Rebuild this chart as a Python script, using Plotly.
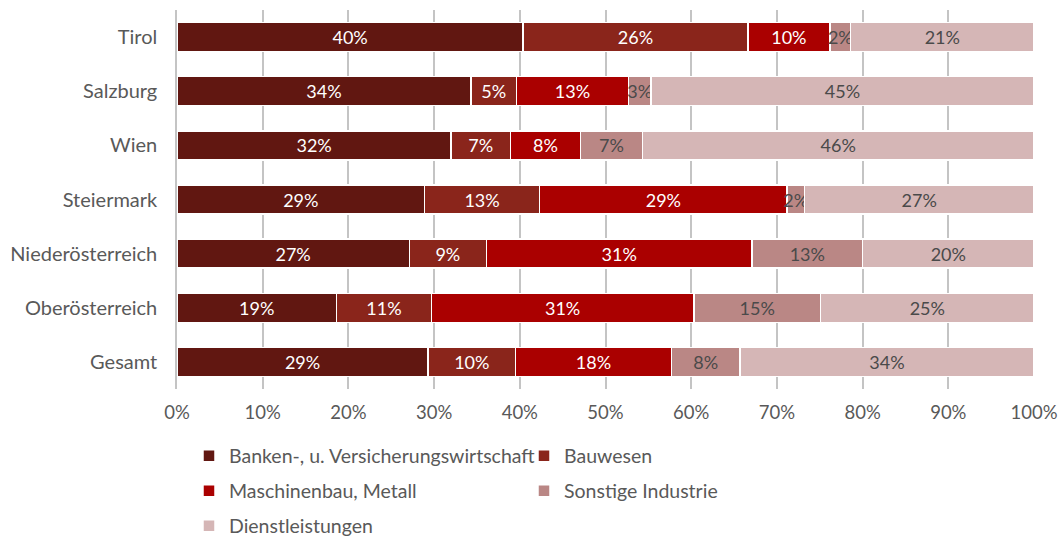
import plotly.graph_objects as go

# Regions, listed top to bottom as displayed
regions = ["Tirol", "Salzburg", "Wien", "Steiermark", "Niederösterreich", "Oberösterreich", "Gesamt"]

# Share of each sector per region (percent)
banken = [40.4, 34.3, 32.0, 28.9, 27.1, 18.6, 29.3]
bauwesen = [26.2, 5.3, 6.9, 13.4, 9.0, 11.1, 10.2]
maschinenbau = [9.6, 13.1, 8.2, 28.9, 31.0, 30.6, 18.2]
sonstige = [2.4, 2.6, 7.2, 2.0, 12.9, 14.8, 8.0]
dienstleistungen = [21.4, 44.7, 45.7, 26.8, 20.0, 24.9, 34.3]

series = [
    ("Banken-, u. Versicherungswirtschaft", banken, "#611711", "white", "legend"),
    ("Bauwesen", bauwesen, "#8A251B", "white", "legend"),
    ("Maschinenbau, Metall", maschinenbau, "#AA0000", "white", "legend2"),
    ("Sonstige Industrie", sonstige, "#BA8785", "#4a4a4a", "legend2"),
    ("Dienstleistungen", dienstleistungen, "#D5B6B6", "#4a4a4a", "legend3"),
]

FONT = "Lato"
GREY = "#595959"

fig = go.Figure()
for name, vals, color, tcolor, leg in series:
    fig.add_trace(go.Bar(
        y=regions,
        x=vals,
        name=name,
        orientation="h",
        marker=dict(color=color, line=dict(color="white", width=1.5)),
        texttemplate="%{x:.0f}%",
        textposition="inside",
        insidetextanchor="middle",
        textangle=0,
        constraintext="none",
        textfont=dict(family=FONT, size=18, color=tcolor),
        legend=leg,
        hoverinfo="skip",
    ))

# Three legend rows, two entries per row in the first two
legend_common = dict(
    orientation="h",
    xanchor="left",
    x=0.014,
    yref="container",
    yanchor="middle",
    entrywidth=290,
    font=dict(family=FONT, size=19.5, color=GREY),
    bgcolor="rgba(0,0,0,0)",
    traceorder="normal",
)

fig.update_layout(
    width=1061,
    height=538,
    margin=dict(l=177, r=27, t=10, b=149, autoexpand=False),
    paper_bgcolor="white",
    plot_bgcolor="white",
    barmode="stack",
    bargap=0.465,
    font=dict(family=FONT, color=GREY),
    legend=dict(**legend_common, y=0.1524),
    legend2=dict(**legend_common, y=0.0874),
    legend3=dict(**legend_common, y=0.0223),
    xaxis=dict(
        range=[0, 100],
        dtick=10,
        ticksuffix="%",
        showgrid=True,
        gridcolor="#C4C4C4",
        gridwidth=1.5,
        zeroline=False,
        showline=False,
        ticks="",
        ticklabelstandoff=10,
        tickfont=dict(family=FONT, size=18.5, color=GREY),
        automargin=False,
        fixedrange=True,
    ),
    yaxis=dict(
        autorange="reversed",
        showgrid=False,
        showline=True,
        linecolor="#C4C4C4",
        linewidth=1.5,
        ticks="",
        ticklabelstandoff=14,
        tickfont=dict(family=FONT, size=20, color=GREY),
        automargin=False,
        fixedrange=True,
    ),
)

fig.write_html("out.html")
